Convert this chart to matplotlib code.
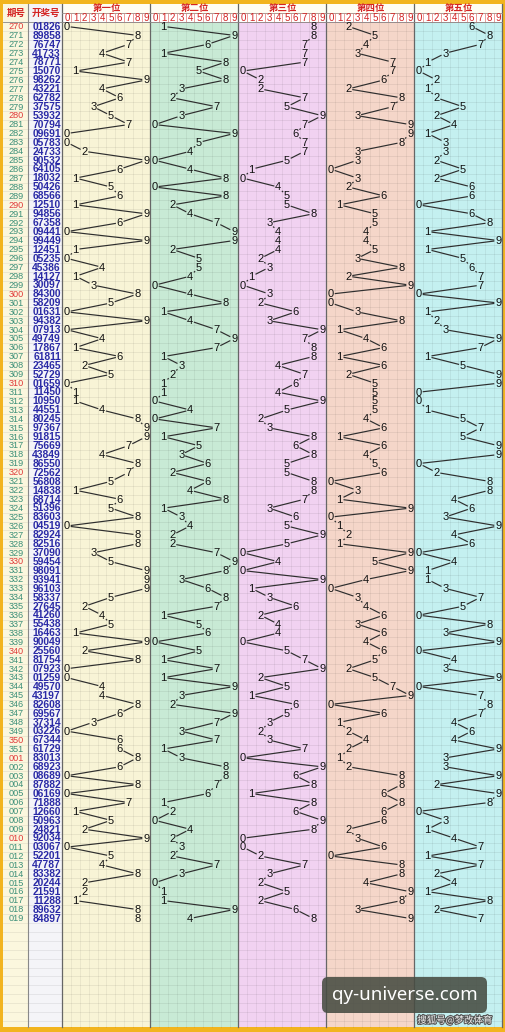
import matplotlib
matplotlib.use('Agg')
import matplotlib.pyplot as plt
from matplotlib.patches import Rectangle, FancyBboxPatch
import matplotlib.patheffects as pe

periods = ['270', '271', '272', '273', '274', '275', '276', '277', '278', '279',
           '280', '281', '282', '283', '284', '285', '286', '287', '288', '289',
           '290', '291', '292', '293', '294', '295', '296', '297', '298', '299',
           '300', '301', '302', '303', '304', '305', '306', '307', '308', '309',
           '310', '311', '312', '313', '314', '315', '316', '317', '318', '319',
           '320', '321', '322', '323', '324', '325', '326', '327', '328', '329',
           '330', '331', '332', '333', '334', '335', '336', '337', '338', '339',
           '340', '341', '342', '343', '344', '345', '346', '347', '348', '349',
           '350', '351', '001', '002', '003', '004', '005', '006', '007', '008',
           '009', '010', '011', '012', '013', '014', '015', '016', '017', '018', '019']

draws = ['01826', '89858', '76747', '41733', '78771', '15070', '98262', '43221', '62782', '37575',
         '53932', '70794', '09691', '05783', '24733', '90532', '64105', '18032', '50426', '68566',
         '12510', '94856', '67358', '09441', '99449', '12451', '05235', '45386', '14127', '30097',
         '84300', '58209', '01631', '94382', '07913', '49749', '17867', '61811', '23465', '52729',
         '01659', '11450', '10950', '44551', '80245', '97367', '91815', '75669', '43849', '86550',
         '72562', '56808', '14838', '68714', '51396', '83603', '04519', '82924', '82516', '37090',
         '59454', '98091', '93941', '96103', '58337', '27645', '41260', '55438', '16463', '90049',
         '25560', '81754', '07923', '01259', '49570', '43197', '82608', '69567', '37314', '03226',
         '67344', '61729', '83013', '68923', '08689', '87882', '06169', '71888', '12660', '50963',
         '24821', '92034', '03067', '52201', '47787', '83382', '20244', '21591', '11288', '89632', '84897']

red_periods = ['270', '280', '290', '300', '310', '320', '330', '340', '350', '001', '010']
section_titles = ['第一位', '第二位', '第三位', '第四位', '第五位']
digit_labels = ['0', '1', '2', '3', '4', '5', '6', '7', '8', '9']
section_colors = ['#F8F4D6', '#C8EAD5', '#F1D2F1', '#F5D6C9', '#C4F0F0']

W_PX, H_PX = 506, 1032
fig = plt.figure(figsize=(W_PX / 100, H_PX / 100), dpi=100)
ax = fig.add_axes([0, 0, 1, 1])
ax.set_xlim(0, W_PX)
ax.set_ylim(H_PX, 0)
ax.axis('off')

GOLD = '#F2B41E'
CJK = ['Noto Sans CJK SC', 'DejaVu Sans']

# geometry
L = 3.5
C1 = 28.5
X0 = 62.5
SW = 88.0
CW = SW / 10
RIGHT = X0 + 5 * SW
TOP = 3.5
HDR2 = 12.5
DTOP = 22.0
RH = 8.92
BOTTOM = 1027.0
nrows = len(draws)

ax.add_patch(Rectangle((0, 0), W_PX, H_PX, facecolor=GOLD, edgecolor='none', zorder=0))

# left columns
ax.add_patch(Rectangle((L, TOP), C1 - L, BOTTOM - TOP, facecolor='#FBF7DE', edgecolor='none', zorder=1))
ax.add_patch(Rectangle((C1, TOP), X0 - C1, BOTTOM - TOP, facecolor='#F4F4F8', edgecolor='none', zorder=1))

# sections
for s in range(5):
    ax.add_patch(Rectangle((X0 + s * SW, DTOP), SW, BOTTOM - DTOP,
                           facecolor=section_colors[s], edgecolor='none', zorder=1))
# header background
ax.add_patch(Rectangle((X0, TOP), RIGHT - X0, HDR2 - TOP, facecolor='#FFFDF3', edgecolor='none', zorder=1))

# grid lines
y = DTOP
while y <= BOTTOM:
    ax.plot([L, RIGHT], [y, y], color='k', alpha=0.09, lw=0.5, zorder=2)
    y += RH
for s in range(5):
    for d in range(1, 10):
        x = X0 + s * SW + d * CW
        ax.plot([x, x], [DTOP, BOTTOM], color='k', alpha=0.08, lw=0.5, zorder=2)

# section separators
for s in range(6):
    x = X0 + s * SW
    ax.plot([x, x], [TOP, BOTTOM], color='#666666', lw=0.9, zorder=4)
ax.plot([C1, C1], [TOP, BOTTOM], color='#888888', lw=0.8, zorder=4)
ax.plot([L, RIGHT], [DTOP, DTOP], color='#888888', lw=0.6, zorder=4)
ax.plot([X0, RIGHT], [HDR2, HDR2], color='#999999', lw=0.5, zorder=4)

# header
ax.text((L + C1) / 2, (TOP + DTOP) / 2, '期号', color='#D42424', fontsize=6.8,
        fontweight='bold', family=CJK, ha='center', va='center', zorder=5)
ax.text((C1 + X0) / 2, (TOP + DTOP) / 2, '开奖号', color='#D42424', fontsize=6.8,
        fontweight='bold', family=CJK, ha='center', va='center', zorder=5)
for s in range(5):
    ax.text(X0 + s * SW + SW / 2, (TOP + HDR2) / 2 + 0.3, section_titles[s], color='#D42424',
            fontsize=6.8, fontweight='bold', family=CJK, ha='center', va='center', zorder=5)
    for d in range(10):
        x = X0 + s * SW + d * CW
        ax.add_patch(Rectangle((x, HDR2), CW, DTOP - HDR2, facecolor='white',
                               edgecolor='#E98A8A', lw=0.5, zorder=3))
        ax.text(x + CW / 2, (HDR2 + DTOP) / 2 + 0.4, digit_labels[d], color='#D42424',
                fontsize=7, family='Liberation Sans', ha='center', va='center', zorder=5)

# rows
def row_y(i):
    return DTOP + RH * (i + 0.5)

for i, (p, dr) in enumerate(zip(periods, draws)):
    yc = row_y(i)
    col = '#E03A3A' if p in red_periods else '#3C8F78'
    ax.text((L + C1) / 2, yc + 0.3, p, color=col, fontsize=6.6, family='Liberation Sans',
            ha='center', va='center', zorder=5)
    ax.text(X0 - 1.5, yc + 0.3, dr, color='#2A2AA6', fontsize=7.4, fontweight='bold',
            family='Liberation Sans', ha='right', va='center', zorder=5)

# trend lines and digits
A, B = 3.8, 4.6
for s in range(5):
    xs = [X0 + s * SW + (int(dr[s]) + 0.5) * CW for dr in draws]
    ys = [row_y(i) for i in range(nrows)]
    for i in range(nrows - 1):
        x1, y1, x2, y2 = xs[i], ys[i], xs[i + 1], ys[i + 1]
        dx, dy = x2 - x1, y2 - y1
        tx = A / abs(dx) if dx != 0 else 1e9
        ty = B / abs(dy) if dy != 0 else 1e9
        t = min(tx, ty)
        if 2 * t >= 1:
            continue
        ax.plot([x1 + t * dx, x2 - t * dx], [y1 + t * dy, y2 - t * dy],
                color='#2E2E2E', lw=0.85, zorder=6, solid_capstyle='butt')
    for i in range(nrows):
        ax.text(xs[i], ys[i] + 0.4, draws[i][s], color='#111111', fontsize=8,
                family='Liberation Sans', ha='center', va='center', zorder=7)

# watermark
ax.add_patch(FancyBboxPatch((322, 977), 165, 36, boxstyle='round,pad=0,rounding_size=6',
                            facecolor='#474C42', edgecolor='none', alpha=0.88, zorder=9))
ax.text(404.5, 995, 'qy-universe.com', color='white', fontsize=13.5, family='Noto Sans',
        ha='center', va='center', zorder=10)
ax.text(455, 1020.5, '搜狐号@梦改体育', color='#EEEEEE', fontsize=6.8, family=CJK,
        ha='center', va='center', zorder=10,
        path_effects=[pe.withStroke(linewidth=1.5, foreground='#555555')])

fig.savefig('out.png', dpi=100)
